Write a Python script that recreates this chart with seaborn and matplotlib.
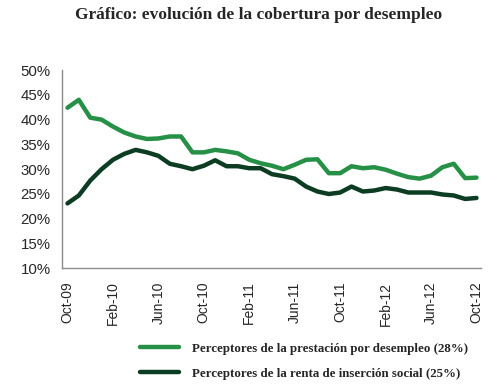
import numpy as np
import matplotlib
matplotlib.use('Agg')
import matplotlib.pyplot as plt
import seaborn as sns
import pandas as pd

# Monthly series, Oct-09 .. Oct-12 (share of unemployed covered, %)
months = pd.date_range('2009-10-01', '2012-10-01', freq='MS')
prestacion = [42.4, 44.0, 40.4, 40.0, 38.6, 37.4, 36.6, 36.1, 36.2, 36.6, 36.6, 33.4,
              33.4, 33.9, 33.6, 33.2, 31.9, 31.2, 30.7, 30.0, 30.9, 31.9, 32.0, 29.2,
              29.2, 30.6, 30.2, 30.4, 29.9, 29.1, 28.4, 28.1, 28.7, 30.4, 31.1, 28.2,
              28.3]
renta = [23.1, 24.7, 27.7, 30.0, 31.9, 33.1, 33.9, 33.4, 32.7, 31.1, 30.6, 30.0,
         30.7, 31.8, 30.6, 30.6, 30.2, 30.2, 29.0, 28.6, 28.1, 26.5, 25.5, 25.0,
         25.3, 26.5, 25.5, 25.7, 26.2, 25.9, 25.3, 25.3, 25.3, 24.9, 24.7, 24.0,
         24.2]
label_prest = 'Perceptores de la prestación por desempleo (28%)'
label_renta = 'Perceptores de la renta de inserción social (25%)'
title = 'Gráfico: evolución de la cobertura por desempleo'

idx = np.arange(len(months))
df = pd.DataFrame({
    'm': np.concatenate([idx, idx]),
    'valor': np.array(prestacion + renta) / 100,
    'serie': [label_prest] * len(idx) + [label_renta] * len(idx),
})

sns.set_style('white')
fig = plt.figure(figsize=(4.99, 3.85), dpi=100)
ax = fig.add_axes([0.125, 0.303, 0.839, 0.515])

pal = {label_prest: '#259046', label_renta: '#0c3d22'}
sns.lineplot(data=df, x='m', y='valor', hue='serie', palette=pal, linewidth=3.2, ax=ax)

ax.set_ylim(0.10, 0.50)
yt = np.arange(0.10, 0.501, 0.05)
ax.set_yticks(yt)
ax.set_yticklabels([f'{int(round(v*100))}%' for v in yt], fontsize=10.8, family='Liberation Sans')
ax.set_xlim(-0.45, 36.4)
ticks = idx[::4]
ax.set_xticks(ticks)
ax.set_xticklabels([months[i].strftime('%b-%y') for i in ticks], rotation=90,
                   fontsize=10, family='Liberation Sans')
ax.tick_params(axis='y', length=0, pad=8.5)
ax.tick_params(axis='x', length=0, pad=9.5)
ax.set_xlabel('')
ax.set_ylabel('')
for s in ['top', 'right']:
    ax.spines[s].set_visible(False)
for s in ['left', 'bottom']:
    ax.spines[s].set_color('#8c8c8c')
    ax.spines[s].set_linewidth(1)

ax.legend(loc='upper left', bbox_to_anchor=(0.257, 0.14), bbox_transform=fig.transFigure,
          frameon=False, handlelength=3.0, handletextpad=1.0, labelspacing=1.0,
          prop={'family': 'Liberation Serif', 'weight': 'bold', 'size': 9.3})

fig.text(0.518, 0.96, title, ha='center', va='center', fontsize=12.5,
         family='Liberation Serif', weight='bold')

fig.savefig('out.png', dpi=100)
